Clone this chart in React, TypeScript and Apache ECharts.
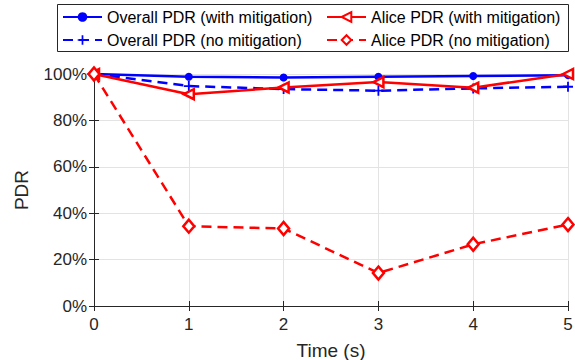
import React, { useEffect, useRef } from "react";
import * as echarts from "echarts";

const times = [0, 1, 2, 3, 4, 5];
const overallWith = [100, 98.8, 98.5, 98.8, 99.1, 99.5];
const overallNo = [100, 94.8, 93.5, 92.8, 93.8, 94.5];
const aliceWith = [100, 91.3, 94.2, 96.5, 94.1, 100];
const aliceNo = [100, 34.4, 33.4, 14.2, 26.6, 35.1];
const yTicks = [0, 20, 40, 60, 80, 100];

const names = [
  "Overall PDR (with mitigation)",
  "Overall PDR (no mitigation)",
  "Alice PDR (with mitigation)",
  "Alice PDR (no mitigation)",
];

const FONT = "'Liberation Sans', Arial, Helvetica, sans-serif";
const TXT = "#262626";
const PLUS = "path://M-1,-0.18H-0.18V-1H0.18V-0.18H1V0.18H0.18V1H-0.18V0.18H-1Z";

const pair = (vals: number[]) => times.map((t, i) => [t, vals[i]]);

export default function App() {
  const ref = useRef<HTMLDivElement>(null);
  useEffect(() => {
    if (!ref.current) return;
    const chart = echarts.init(ref.current, undefined, { renderer: "svg" });
    const axisLine = { show: true, lineStyle: { color: TXT, width: 1 } };
    const tick = { show: true, inside: true, length: 5, lineStyle: { color: TXT } };
    const legendCommon = {
      orient: "vertical" as const,
      top: 8,
      itemWidth: 39,
      itemHeight: 12,
      itemGap: 5,
      padding: 0,
      textStyle: { fontFamily: FONT, fontSize: 16, color: "#000", lineHeight: 18 },
    };
    chart.setOption({
      animation: false,
      backgroundColor: "#fff",
      grid: {
        left: 94,
        right: 7,
        top: 74,
        bottom: 54,
        containLabel: false,
        outerBoundsMode: "none",
      },
      graphic: [
        {
          type: "rect",
          shape: { x: 57.5, y: 4.5, width: 511, height: 47 },
          style: { fill: "#fff", stroke: "#262626", lineWidth: 1 },
          z: 0,
          zlevel: 0,
        },
      ],
      legend: [
        { ...legendCommon, left: 62, data: [names[0], names[1]] },
        { ...legendCommon, left: 326, data: [names[2], names[3]] },
      ],
      xAxis: [
        {
          type: "value",
          min: 0,
          max: 5,
          interval: 1,
          name: "Time (s)",
          nameLocation: "middle",
          nameGap: 35,
          nameTextStyle: { fontFamily: FONT, fontSize: 19, color: TXT },
          axisLine,
          axisTick: tick,
          axisLabel: { fontFamily: FONT, fontSize: 17, color: TXT, margin: 10 },
          splitLine: { show: true, lineStyle: { color: "#e3e3e3", width: 1 } },
        },
        {
          type: "value",
          position: "top",
          min: 0,
          max: 5,
          interval: 1,
          axisLine,
          axisTick: tick,
          axisLabel: { show: false },
          splitLine: { show: false },
        },
      ],
      yAxis: [
        {
          type: "value",
          min: 0,
          max: 100,
          interval: 20,
          name: "PDR",
          nameLocation: "middle",
          nameGap: 63,
          nameTextStyle: { fontFamily: FONT, fontSize: 19, color: TXT },
          axisLine,
          axisTick: tick,
          axisLabel: {
            fontFamily: FONT,
            fontSize: 17,
            color: TXT,
            margin: 7,
            formatter: (v: number) => (yTicks.includes(v) ? `${v}%` : ""),
          },
          splitLine: { show: true, lineStyle: { color: "#e3e3e3", width: 1 } },
        },
        {
          type: "value",
          position: "right",
          min: 0,
          max: 100,
          interval: 20,
          axisLine,
          axisTick: tick,
          axisLabel: { show: false },
          splitLine: { show: false },
        },
      ],
      series: [
        {
          name: names[0],
          type: "line",
          data: pair(overallWith),
          symbol: "circle",
          symbolSize: 8,
          lineStyle: { color: "#0000ff", width: 2.5 },
          itemStyle: { color: "#0000ff" },
          z: 3,
        },
        {
          name: names[1],
          type: "line",
          data: pair(overallNo),
          symbol: PLUS,
          symbolSize: 10,
          lineStyle: { color: "#0000ff", width: 2.5, type: [10, 6] },
          itemStyle: { color: "#0000ff" },
          z: 3,
        },
        {
          name: names[2],
          type: "line",
          data: pair(aliceWith),
          symbol: "triangle",
          symbolRotate: 90,
          symbolSize: 10,
          lineStyle: { color: "#ff0000", width: 2.5 },
          itemStyle: { color: "#fff", borderColor: "#ff0000", borderWidth: 2.5 },
          z: 4,
        },
        {
          name: names[3],
          type: "line",
          data: pair(aliceNo),
          symbol: "diamond",
          symbolSize: [11, 13],
          lineStyle: { color: "#ff0000", width: 2.5, type: [10, 6] },
          itemStyle: { color: "#fff", borderColor: "#ff0000", borderWidth: 2.5 },
          z: 4,
        },
      ],
    });
    return () => chart.dispose();
  }, []);
  return (
    <div
      ref={ref}
      style={{ position: "absolute", left: 0, top: 0, width: 575, height: 360 }}
    />
  );
}
